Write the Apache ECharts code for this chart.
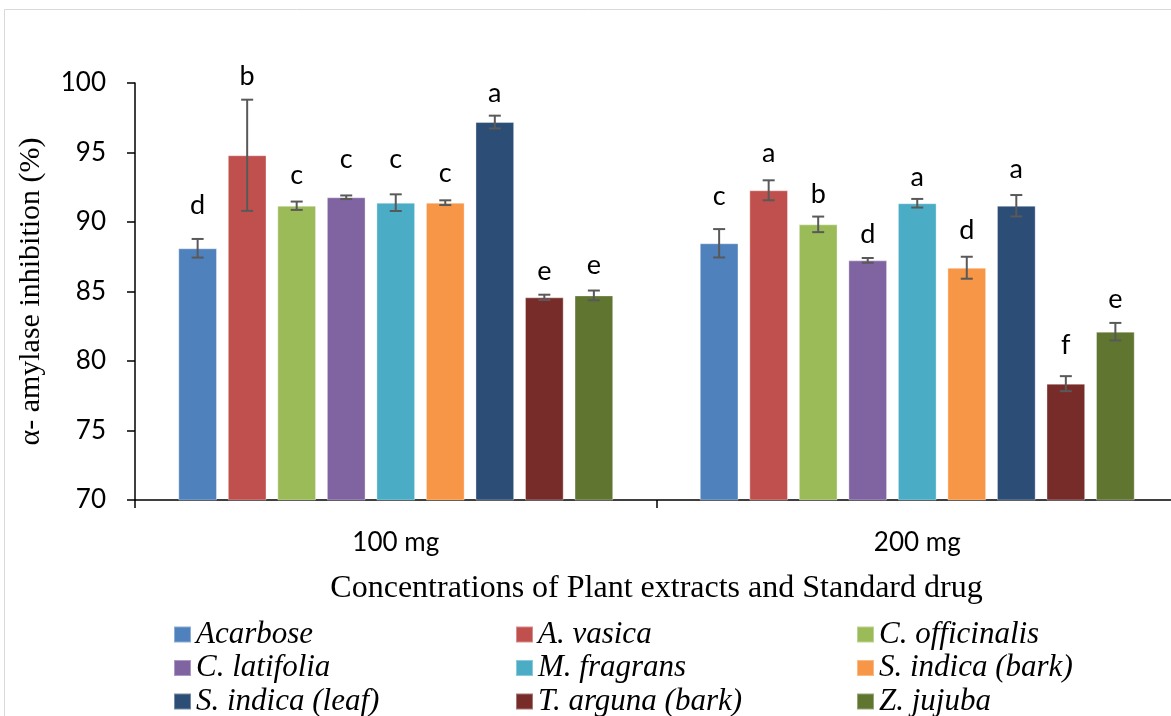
<!DOCTYPE html>
<html>
<head>
<meta charset="utf-8">
<script src="https://cdn.jsdelivr.net/npm/echarts@6/dist/echarts.min.js"></script>
<style>
html,body{margin:0;padding:0;background:#fff;}
#chart{width:1171px;height:716px;}
</style>
</head>
<body>
<div id="chart"></div>
<script>
// ---- data ----
const categories = ['100 mg', '200 mg'];
const seriesNames = ['Acarbose', 'A. vasica', 'C. officinalis', 'C. latifolia', 'M. fragrans',
  'S. indica (bark)', 'S. indica (leaf)', 'T. arguna (bark)', 'Z. jujuba'];
const acarbose     = [88.11, 88.47];
const aVasica      = [94.80, 92.28];
const cOfficinalis = [91.17, 89.83];
const cLatifolia   = [91.78, 87.24];
const mFragrans    = [91.39, 91.35];
const sIndicaBark  = [91.39, 86.71];
const sIndicaLeaf  = [97.19, 91.17];
const tArguna      = [84.58, 78.37];
const zJujuba      = [84.72, 82.11];
const values = [acarbose, aVasica, cOfficinalis, cLatifolia, mFragrans, sIndicaBark, sIndicaLeaf, tArguna, zJujuba];
// standard errors (±)
const errAcarbose     = [0.67, 1.02];
const errAVasica      = [4.00, 0.72];
const errCOfficinalis = [0.30, 0.56];
const errCLatifolia   = [0.13, 0.17];
const errMFragrans    = [0.60, 0.31];
const errSIndicaBark  = [0.17, 0.79];
const errSIndicaLeaf  = [0.46, 0.77];
const errTArguna      = [0.19, 0.54];
const errZJujuba      = [0.35, 0.63];
const errors = [errAcarbose, errAVasica, errCOfficinalis, errCLatifolia, errMFragrans, errSIndicaBark, errSIndicaLeaf, errTArguna, errZJujuba];
// significance letters per series [100 mg, 200 mg]
const letters = [['d','c'], ['b','a'], ['c','b'], ['c','d'], ['c','a'], ['c','d'], ['a','a'], ['e','f'], ['e','e']];
// value level at which each letter sits
const letterLevel = [[91.22, 91.82], [100.45, 94.94], [93.38, 91.99], [94.51, 89.11], [94.51, 93.22],
  [93.50, 89.42], [99.26, 93.79], [86.42, 81.10], [86.90, 84.46]];
const yTicks = [70, 75, 80, 85, 90, 95, 100];

// ---- styles ----
const colors = ['#4F81BD', '#C0504D', '#9BBB59', '#8064A2', '#4BACC6', '#F79646', '#2C4D75', '#772C2A', '#5F7530'];
const CAT_GAP = 0.166, BAR_GAP = 0.28;

const chart = echarts.init(document.getElementById('chart'), null, {renderer: 'canvas'});

const barSeries = seriesNames.map((name, i) => ({
  name: name,
  type: 'bar',
  data: values[i],
  barGap: (BAR_GAP * 100) + '%',
  barCategoryGap: (CAT_GAP * 100) + '%',
  itemStyle: {color: colors[i], borderColor: 'rgba(255,255,255,0.35)', borderWidth: 1},
  emphasis: {disabled: true},
  animation: false
}));

const errData = [];
const errLetters = [];
seriesNames.forEach((name, s) => {
  categories.forEach((c, ci) => {
    errData.push([ci, s, values[s][ci], errors[s][ci], letterLevel[s][ci]]);
    errLetters.push(letters[s][ci]);
  });
});

function renderItem(params, api) {
  const ci = api.value(0), s = api.value(1), v = api.value(2), e = api.value(3), lv = api.value(4);
  const band = api.size([1, 0])[0];
  const n = seriesNames.length;
  const w = (band * (1 - CAT_GAP)) / (n + (n - 1) * BAR_GAP);
  const total = n * w + (n - 1) * w * BAR_GAP;
  const c = api.coord([ci, v]);
  const x = c[0] - total / 2 + s * w * (1 + BAR_GAP) + w / 2;
  const top = api.coord([ci, v + e])[1];
  const bot = api.coord([ci, v - e])[1];
  const ly = api.coord([ci, lv])[1];
  const cap = 6;
  const ls = {stroke: '#595959', lineWidth: 2};
  return {
    type: 'group',
    children: [
      {type: 'line', shape: {x1: x, y1: top, x2: x, y2: bot}, style: ls},
      {type: 'line', shape: {x1: x - cap, y1: top, x2: x + cap, y2: top}, style: ls},
      {type: 'line', shape: {x1: x - cap, y1: bot, x2: x + cap, y2: bot}, style: ls},
      {type: 'text', style: {text: errLetters[params.dataIndex], x: x, y: ly, align: 'center', verticalAlign: 'middle',
        font: '27px Lato', fill: '#000'}}
    ]
  };
}

const legendText = {fontFamily: 'Liberation Serif', fontStyle: 'italic', fontSize: 31, color: '#000', lineHeight: 30};
function legendCol(items, left) {
  return {
    data: items, orient: 'vertical', left: left, top: 619, height: 140, itemWidth: 17, itemHeight: 16, itemGap: 2.5,
    icon: 'rect', textStyle: legendText, selectedMode: false, padding: 0
  };
}

const option = {
  animation: false,
  backgroundColor: '#fff',
  grid: {left: 135, top: 83, width: 1043, height: 417, containLabel: false, outerBoundsMode: 'none'},
  xAxis: {
    type: 'category',
    data: categories,
    axisLine: {lineStyle: {color: '#000', width: 1.5}},
    axisTick: {show: true, length: 8, lineStyle: {color: '#000', width: 1.5}},
    axisLabel: {color: '#000', fontFamily: 'Lato', fontSize: 26, margin: 30},
    name: 'Concentrations of Plant extracts and Standard drug',
    nameLocation: 'middle',
    nameGap: 73,
    nameTextStyle: {fontFamily: 'Liberation Serif', fontSize: 32, color: '#000'}
  },
  yAxis: {
    type: 'value',
    min: yTicks[0], max: yTicks[yTicks.length - 1], interval: 5,
    axisLine: {show: true, lineStyle: {color: '#000', width: 1.5}},
    axisTick: {show: true, length: 8, inside: false, lineStyle: {color: '#000', width: 1.5}},
    splitLine: {show: false},
    axisLabel: {color: '#000', fontFamily: 'Lato', fontSize: 26, margin: 29},
    name: 'α- amylase inhibition (%)',
    nameLocation: 'middle',
    nameRotate: 90,
    nameGap: 89,
    nameTextStyle: {fontFamily: 'Liberation Serif', fontSize: 30, color: '#000'}
  },
  legend: [
    legendCol([seriesNames[0], seriesNames[3], seriesNames[6]], 173),
    legendCol([seriesNames[1], seriesNames[4], seriesNames[7]], 515),
    legendCol([seriesNames[2], seriesNames[5], seriesNames[8]], 856)
  ],
  graphic: [{
    type: 'rect', silent: true, z: -1,
    shape: {x: 4.5, y: 9.5, width: 1300, height: 900},
    style: {fill: 'none', stroke: '#d9d9d9', lineWidth: 1}
  }],
  series: barSeries.concat([{
    type: 'custom',
    name: 'errors',
    renderItem: renderItem,
    data: errData,
    encode: {x: 0, y: 2},
    z: 10,
    clip: false,
    silent: true
  }])
};
chart.setOption(option);
</script>
</body>
</html>
